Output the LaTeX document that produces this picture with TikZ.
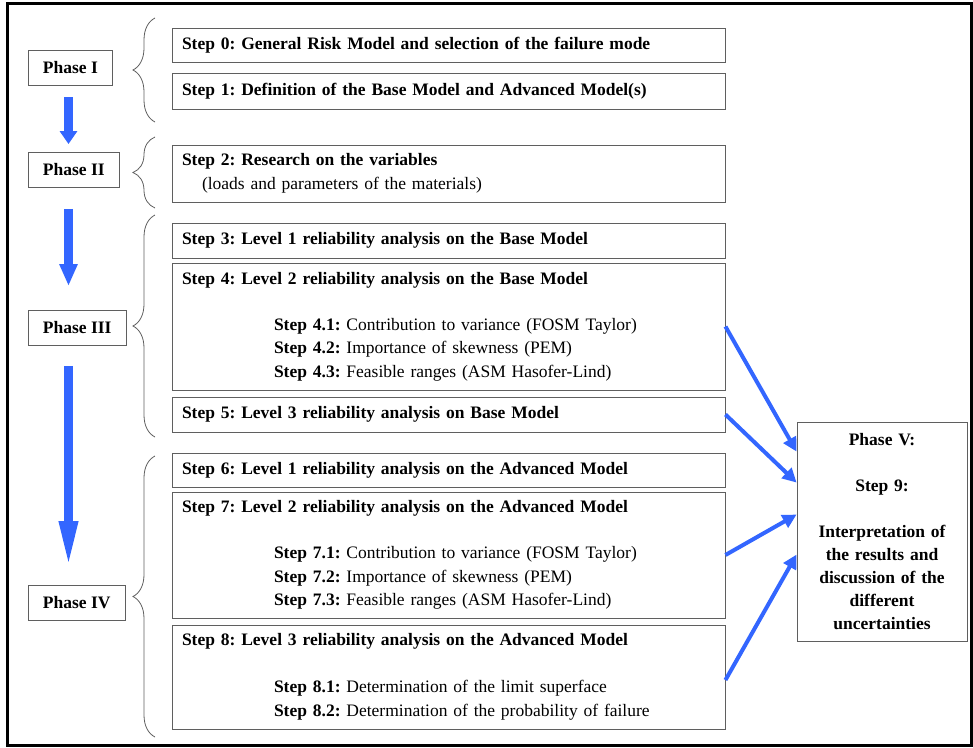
\documentclass[tikz,border=0pt]{standalone}
\definecolor{flowblue}{RGB}{51, 102, 255}
\definecolor{boxgray}{RGB}{95, 95, 95}
\usepackage{fontspec}
\setmainfont{Liberation Serif}
\usepackage{tikz}
\usetikzlibrary{arrows.meta, positioning, calc, decorations.pathreplacing}
\frenchspacing

\begin{document}
\begin{tikzpicture}[x=1pt, y=-1pt,
  stepbox/.style={draw=boxgray, line width=0.9pt, inner xsep=10pt, inner ysep=0pt, text width=533pt, align=left, font=\fontsize{17.5}{23.5}\selectfont},
  phasebox/.style={draw=boxgray, line width=0.9pt, anchor=west, inner xsep=14.5pt, inner ysep=0pt, minimum height=35pt, font=\fontsize{17.5}{20}\selectfont\bfseries},
  phasebrace/.style={draw=boxgray, line width=0.8pt, decorate, decoration={brace, amplitude=22pt}},
  bigarrow/.style={draw=flowblue, line width=9pt},
  thinarrow/.style={draw=flowblue, line width=4pt, -{Triangle[length=14pt, width=14pt]}}]
  \useasboundingbox (0,0) rectangle (973,747);
  \draw[line width=3pt] (7,3) rectangle (971,745);

  % Phases
  \node[phasebox] (p1) at (28, 67.5) {Phase I};
  \node[phasebox] (p2) at (28, 170) {Phase II};
  \node[phasebox] (p3) at (28, 328) {Phase III};
  \node[phasebox] (p4) at (28, 603) {Phase IV};

  % Steps
  \node[stepbox, minimum height=34pt] (s0) at (448.5, 45) {\bfseries Step 0: General Risk Model and selection of the failure mode};
  \node[stepbox, minimum height=36pt] (s1) at (448.5, 91) {\bfseries Step 1: Definition of the Base Model and Advanced Model(s)};
  \node[stepbox, minimum height=57pt] (s2) at (448.5, 173.5) {
    \textbf{Step 2: Research on the variables}\\
    \hspace*{20pt}(loads and parameters of the materials)};
  \node[stepbox, minimum height=35pt] (s3) at (448.5, 240.5) {\bfseries Step 3: Level 1 reliability analysis on the Base Model};
  \node[stepbox, minimum height=127pt] (s4) at (448.5, 326.5) {
    \textbf{Step 4: Level 2 reliability analysis on the Base Model}\\[22.5pt]
    \hspace*{92pt}\textbf{Step 4.1:} Contribution to variance (FOSM Taylor)\\
    \hspace*{92pt}\textbf{Step 4.2:} Importance of skewness (PEM)\\
    \hspace*{92pt}\textbf{Step 4.3:} Feasible ranges (ASM Hasofer-Lind)};
  \node[stepbox, minimum height=35pt] (s5) at (448.5, 414.5) {\bfseries Step 5: Level 3 reliability analysis on Base Model};
  \node[stepbox, minimum height=34pt] (s6) at (448.5, 470) {\bfseries Step 6: Level 1 reliability analysis on the Advanced Model};
  \node[stepbox, minimum height=126pt] (s7) at (448.5, 555) {
    \textbf{Step 7: Level 2 reliability analysis on the Advanced Model}\\[22.5pt]
    \hspace*{92pt}\textbf{Step 7.1:} Contribution to variance (FOSM Taylor)\\
    \hspace*{92pt}\textbf{Step 7.2:} Importance of skewness (PEM)\\
    \hspace*{92pt}\textbf{Step 7.3:} Feasible ranges (ASM Hasofer-Lind)};
  \node[stepbox, minimum height=104pt] (s8) at (448.5, 677) {
    \textbf{Step 8: Level 3 reliability analysis on the Advanced Model}\\[23.5pt]
    \hspace*{92pt}\textbf{Step 8.1:} Determination of the limit superface\\
    \hspace*{92pt}\textbf{Step 8.2:} Determination of the probability of failure};

  % Phase V
  \node[draw=boxgray, line width=0.9pt, minimum width=170pt, minimum height=219pt, text width=162pt, inner sep=0pt, align=center, font=\fontsize{17.5}{23}\selectfont\bfseries] (p5) at (882, 531.5) {
    Phase V:\\[23pt]
    Step 9:\\[23pt]
    Interpretation of\\ the results and\\ discussion of the\\ different\\ uncertainties};

  % Braces
  \draw[phasebrace] (155,122) -- (155,18);
  \draw[phasebrace] (155,208) -- (155,137);
  \draw[phasebrace] (155,437) -- (155,215);
  \draw[phasebrace] (155,737) -- (155,456);

  % Arrows between phases
  \coordinate (ax) at (68.5, 0);
  \draw[bigarrow, -{Triangle[length=13pt, width=17pt]}, shorten <=12pt, shorten >=8pt] (p1.south -| ax) -- (p2.north -| ax);
  \draw[bigarrow, -{Triangle[length=22pt, width=17pt]}, shorten <=21pt, shorten >=24pt] (p2.south -| ax) -- (p3.north -| ax);
  \draw[bigarrow, -{Triangle[length=48pt, width=17pt]}, shorten <=20pt, shorten >=16pt] (p3.south -| ax) -- (p4.north -| ax);

  % Arrows into Phase V
  \draw[thinarrow] (s4.east) -- ([yshift=-30pt]p5.north west);
  \draw[thinarrow] (s5.east) -- ([yshift=-61pt]p5.north west);
  \draw[thinarrow] (s7.east) -- ([yshift=-93pt]p5.north west);
  \draw[thinarrow] ([yshift=-3pt]s8.east) -- ([yshift=-133pt]p5.north west);
\end{tikzpicture}
\end{document}
